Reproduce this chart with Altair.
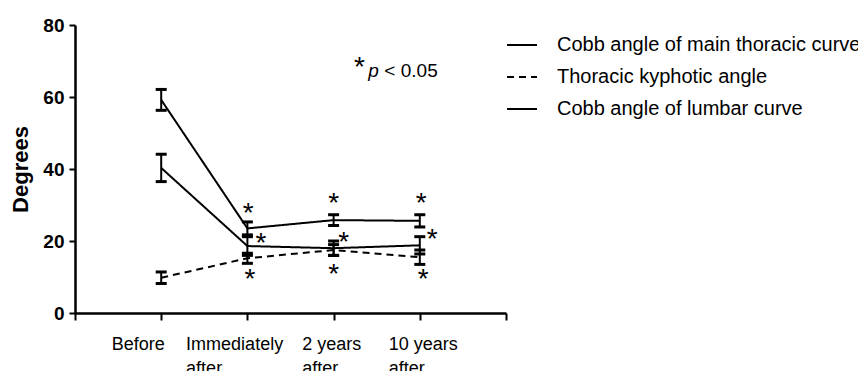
import altair as alt
import pandas as pd

# ---- data ----
time_points = [1, 2, 3, 4]
x_tick_labels = ["Before", "Immediately\nafter", "2 years\nafter", "10 years\nafter"]
# left edge of each (left-aligned) category label, in x-axis units
x_label_left = [0.426, 1.289, 2.636, 3.64]
series_names = [
    "Cobb angle of main thoracic curve",
    "Thoracic kyphotic angle",
    "Cobb angle of lumbar curve",
]
main_mean = [59.2, 23.5, 25.8, 25.6]
main_err = [2.9, 1.8, 1.5, 1.7]
kyph_mean = [9.8, 15.2, 17.5, 15.5]
kyph_err = [1.6, 1.4, 1.5, 2.0]
lumbar_mean = [40.3, 18.6, 18.0, 18.8]
lumbar_err = [3.8, 2.6, 2.0, 2.4]

# significance asterisks (centre of glyph, data coords)
ast_x = [2.01, 2.157, 2.03, 3.0, 3.116, 3.0, 4.015, 4.143, 4.04]
ast_y = [29.6, 21.3, 11.5, 32.5, 21.7, 12.9, 32.4, 22.4, 11.5]

# "*p < 0.05" note
note_star = {"x": 3.30, "y": 70.3, "t": "*"}
note_p = {"x": 3.403, "y": 65.6, "text": "p"}
note_rest = {"x": 3.589, "y": 65.6, "text": "< 0.05"}

FONT = "Liberation Sans"

rows = []
for name, means, errs in zip(series_names, [main_mean, kyph_mean, lumbar_mean],
                             [main_err, kyph_err, lumbar_err]):
    for t, m, e in zip(time_points, means, errs):
        rows.append({"series": name, "time": t, "mean": m, "lo": m - e, "hi": m + e})
df = pd.DataFrame(rows)

ast_df = pd.DataFrame({"x": ast_x, "y": ast_y, "t": ["*"] * len(ast_x)})
lab_df = pd.DataFrame({"x": x_label_left, "y": [0] * len(x_label_left), "t": x_tick_labels})

x_enc = alt.X(
    "time:Q",
    scale=alt.Scale(domain=[0, 5], nice=False, zero=False),
    axis=alt.Axis(
        values=[0, 1, 2, 3, 4, 5], labels=False, title=None, grid=False,
        tickSize=7, tickWidth=2, tickColor="black",
        domainColor="black", domainWidth=2.5,
    ),
)
y_scale = alt.Scale(domain=[0, 80], nice=False)
y_axis = alt.Axis(
    values=[0, 20, 40, 60, 80], title="Degrees", grid=False,
    labelFontSize=19, labelFont=FONT, labelFontWeight="bold", labelColor="black",
    labelPadding=5, tickSize=6, tickWidth=2, tickColor="black",
    domainColor="black", domainWidth=2.5,
    titleFontSize=22, titleFont=FONT, titleFontWeight="bold", titleColor="black",
    titlePadding=10,
)

base = alt.Chart(df)

lines = base.mark_line(color="black", strokeWidth=2).encode(
    x=x_enc,
    y=alt.Y("mean:Q", scale=y_scale, axis=y_axis),
    strokeDash=alt.StrokeDash(
        "series:N",
        scale=alt.Scale(domain=series_names, range=[[1, 0], [7, 5], [1, 0]]),
        legend=alt.Legend(
            orient="none", legendX=431, legendY=4, title=None,
            symbolType="stroke", symbolSize=900, symbolStrokeWidth=2,
            symbolStrokeColor="black", labelFontSize=20, labelFont=FONT,
            labelColor="black", labelLimit=400, labelOffset=19,
            rowPadding=6, padding=0,
        ),
    ),
)

err_rules = base.mark_rule(color="black", strokeWidth=2).encode(
    x="time:Q", y=alt.Y("lo:Q", scale=y_scale), y2="hi:Q"
)
cap_lo = base.mark_tick(color="black", opacity=1, orient="horizontal", size=11, thickness=3).encode(
    x="time:Q", y=alt.Y("lo:Q", scale=y_scale)
)
cap_hi = base.mark_tick(color="black", opacity=1, orient="horizontal", size=11, thickness=3).encode(
    x="time:Q", y=alt.Y("hi:Q", scale=y_scale)
)

stars = alt.Chart(ast_df).mark_text(
    font=FONT, fontSize=28, color="black", baseline="alphabetic", dy=16
).encode(x="x:Q", y=alt.Y("y:Q", scale=y_scale), text="t:N")

xlabels = alt.Chart(lab_df).mark_text(
    font=FONT, fontSize=18, color="black", align="left", baseline="alphabetic",
    dy=37, lineBreak="\n", lineHeight=24,
).encode(x="x:Q", y=alt.Y("y:Q", scale=y_scale), text="t:N")

note1 = alt.Chart(pd.DataFrame([note_star])).mark_text(
    font=FONT, fontSize=28, color="black", baseline="alphabetic", dy=16
).encode(x="x:Q", y=alt.Y("y:Q", scale=y_scale), text="t:N")
note2 = alt.Chart(pd.DataFrame([note_p])).mark_text(
    font=FONT, fontSize=19, fontStyle="italic", color="black", align="left", baseline="alphabetic"
).encode(x="x:Q", y=alt.Y("y:Q", scale=y_scale), text="text:N")
note3 = alt.Chart(pd.DataFrame([note_rest])).mark_text(
    font=FONT, fontSize=19, color="black", align="left", baseline="alphabetic"
).encode(x="x:Q", y=alt.Y("y:Q", scale=y_scale), text="text:N")

chart = alt.layer(lines, err_rules, cap_lo, cap_hi, stars, xlabels, note1, note2, note3).properties(
    width=431, height=288,
    autosize=alt.AutoSizeParams(type="none"),
    padding={"left": 67, "top": 17, "right": 352, "bottom": 58},
    background="white",
).configure_view(stroke=None)

chart.save("out.html", embed_options={"renderer": "svg", "actions": False})
